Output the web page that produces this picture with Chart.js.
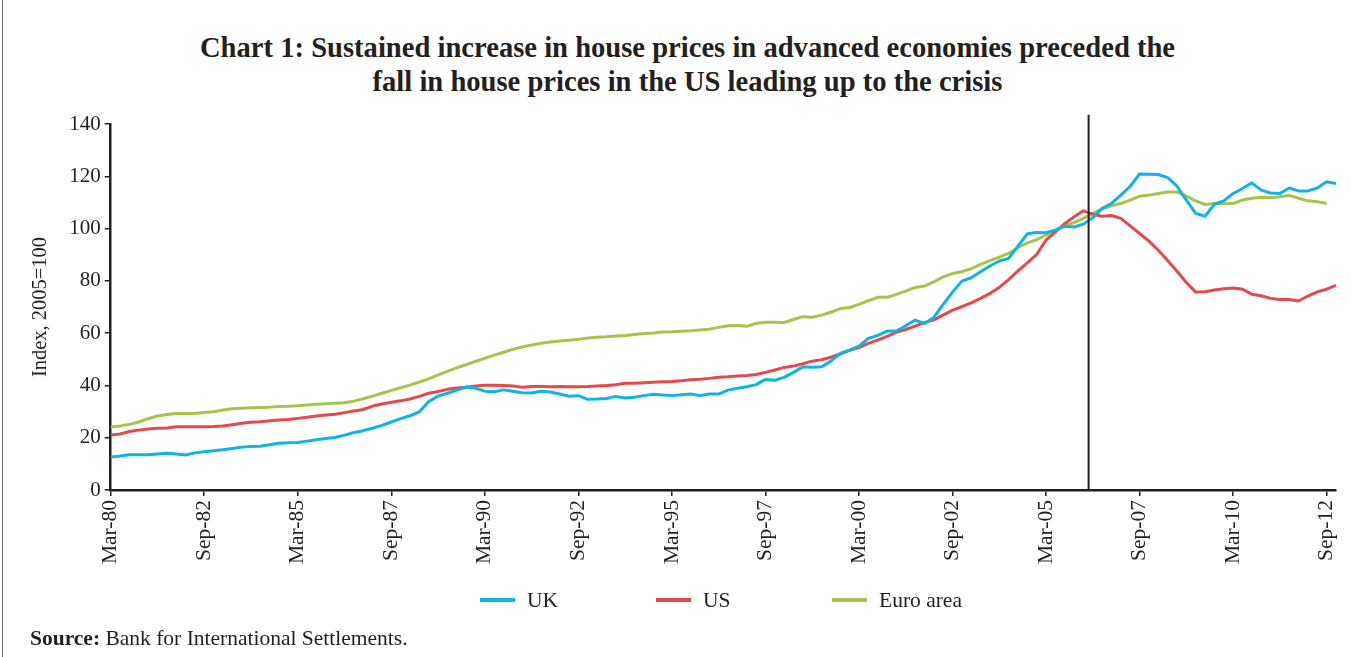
<!DOCTYPE html>
<html><head><meta charset="utf-8">
<script src="https://cdn.jsdelivr.net/npm/chart.js@4.4.1/dist/chart.umd.min.js"></script>
<style>
html,body{margin:0;padding:0;background:#fff;}
body{width:1351px;height:657px;position:relative;overflow:hidden;font-family:"Liberation Serif","DejaVu Serif",serif;color:#231f20;}
#frame{position:absolute;left:2px;top:0;width:1px;height:657px;background:#666;}
#title{position:absolute;left:0;top:31px;width:1351px;padding-left:24px;box-sizing:border-box;text-align:center;font-weight:bold;font-size:28.6px;line-height:34px;}
#wrap{position:absolute;left:0;top:0;width:1351px;height:657px;}
#legend{position:absolute;top:588px;left:480px;display:flex;}
.item{width:176px;display:flex;align-items:center;font-size:21.5px;line-height:24px;}
.sw{width:35px;height:4px;margin-right:12px;}
#source{position:absolute;left:30px;top:626px;font-size:21.5px;line-height:24px;}
</style></head>
<body>
<div id="frame"></div>
<div id="title">Chart 1: Sustained increase in house prices in advanced economies preceded the<br>fall in house prices in the US leading up to the crisis</div>
<div id="wrap"><canvas id="c" width="1351" height="657"></canvas></div>
<div id="legend"></div>
<div id="source"><b>Source:</b> Bank for International Settlements.</div>
<script>
// Quarterly categories Mar-80 ... Dec-12
const years = [];
for (let y = 1980; y <= 2012; y++) years.push(y);
const quarterMonths = ["Mar","Jun","Sep","Dec"];
const categories = [];
years.forEach(y => quarterMonths.forEach(m => categories.push(m + "-" + String(y).slice(2))));

const tickLabels = ["Mar-80","Sep-82","Mar-85","Sep-87","Mar-90","Sep-92","Mar-95","Sep-97","Mar-00","Sep-02","Mar-05","Sep-07","Mar-10","Sep-12"];
const yTicks = [0,20,40,60,80,100,120,140];

const ukValues = [
12.6,13.0,13.5,13.5,13.5,13.8,14.1,13.8,13.4,14.2,
14.6,15.0,15.4,15.9,16.4,16.6,16.7,17.3,17.9,18.1,
18.2,18.7,19.2,19.7,20.1,21.0,22.0,22.7,23.6,24.7,
26.0,27.3,28.4,29.9,33.8,35.9,37.0,38.2,39.4,38.9,
37.8,37.6,38.3,37.8,37.2,37.1,37.8,37.5,36.7,35.9,
36.1,34.7,34.8,35.0,35.8,35.2,35.5,36.1,36.6,36.3,
36.1,36.4,36.7,36.1,36.7,36.7,38.2,38.9,39.5,40.3,
42.3,42.0,43.1,45.0,47.1,47.0,47.1,49.3,52.2,53.5,
55.0,58.0,59.1,60.8,60.8,62.8,65.0,63.7,66.0,71.0,
75.7,79.9,81.2,83.5,85.7,87.6,88.6,93.3,98.0,98.5,
98.4,99.4,100.9,100.6,101.7,104.2,107.7,109.6,112.8,116.2,
120.9,120.8,120.7,119.5,116.2,110.9,105.8,104.7,109.3,110.6,
113.4,115.3,117.5,114.7,113.6,113.4,115.5,114.4,114.4,115.5,
117.9,117.2];

const usValues = [
21.0,21.4,22.4,22.9,23.3,23.6,23.7,24.2,24.2,24.2,
24.2,24.3,24.5,25.0,25.5,25.9,26.1,26.5,26.8,27.0,
27.4,27.8,28.3,28.7,29.0,29.6,30.2,30.8,32.1,32.9,
33.6,34.1,34.8,35.8,37.0,37.7,38.5,39.0,39.3,39.8,
40.1,40.1,40.0,39.8,39.3,39.6,39.6,39.5,39.6,39.5,
39.5,39.6,39.8,40.0,40.3,40.8,40.8,41.0,41.2,41.4,
41.5,41.8,42.2,42.4,42.7,43.1,43.3,43.6,43.8,44.2,
45.0,45.9,46.9,47.4,48.3,49.3,49.8,50.8,52.1,53.4,
54.5,56.1,57.3,58.8,60.4,61.4,62.7,64.0,65.1,66.9,
68.8,70.1,71.6,73.3,75.2,77.5,80.5,83.8,86.9,90.1,
95.6,98.7,101.9,104.5,106.8,105.5,104.7,105.0,103.9,101.0,
98.1,95.2,91.7,87.8,83.7,79.4,75.7,75.8,76.5,77.0,
77.3,76.8,74.9,74.3,73.3,72.9,72.9,72.3,74.2,75.8,
76.8,78.3];

const euroValues = [
24.1,24.5,25.1,26.0,27.3,28.3,28.9,29.3,29.3,29.3,
29.6,29.9,30.6,31.1,31.3,31.5,31.6,31.7,31.9,32.0,
32.2,32.5,32.8,33.0,33.2,33.4,34.0,34.9,35.9,37.0,
38.1,39.1,40.1,41.3,42.5,44.0,45.4,46.7,47.9,49.2,
50.4,51.6,52.7,53.8,54.7,55.5,56.1,56.6,57.0,57.3,
57.7,58.1,58.4,58.6,58.9,59.1,59.5,59.9,60.1,60.4,
60.5,60.7,60.9,61.2,61.5,62.2,62.8,62.9,62.6,63.7,
64.2,64.2,64.1,65.2,66.3,66.1,66.9,68.0,69.4,69.8,
71.0,72.4,73.7,73.7,74.8,76.1,77.5,78.0,79.6,81.5,
82.8,83.5,84.7,86.3,87.7,89.1,90.5,92.8,94.5,95.8,
97.5,99.4,101.0,102.3,103.9,105.8,107.5,108.7,109.6,110.9,
112.4,112.8,113.4,114.0,114.0,112.4,110.6,109.2,109.6,109.6,
109.6,110.9,111.6,112.0,111.8,112.2,112.7,111.6,110.6,110.3,
109.6,null];

const seriesNames = ["UK","US","Euro area"];
const seriesColors = ["#0db4e4","#e8484a","#a6c44a"];
const markerIndex = 104.55;   // vertical marker between Mar-06 and Jun-06
const markerTopValue = 143.5;

const ink = "#231f20";
const fam = "'Liberation Serif','DejaVu Serif',serif";

const markerPlugin = {
  id: "marker",
  afterDatasetsDraw(chart) {
    const {ctx, scales: {x, y}} = chart;
    const px = x.getPixelForValue(markerIndex);
    ctx.save();
    ctx.strokeStyle = ink;
    ctx.lineWidth = 2;
    ctx.beginPath();
    ctx.moveTo(px, y.getPixelForValue(0));
    ctx.lineTo(px, y.getPixelForValue(markerTopValue));
    ctx.stroke();
    ctx.restore();
  }
};

const allValues = [ukValues, usValues, euroValues];
const chart = new Chart(document.getElementById("c"), {
  type: "line",
  data: {
    labels: categories,
    datasets: seriesNames.map((n, i) => ({
      label: n,
      data: allValues[i],
      borderColor: seriesColors[i],
      backgroundColor: seriesColors[i],
      borderWidth: 3,
      pointRadius: 0,
      tension: 0,
      borderJoinStyle: "round",
      fill: false
    }))
  },
  options: {
    responsive: false,
    animation: false,
    events: [],
    layout: {padding: {left: 0, right: 15, top: 124, bottom: 67}},
    plugins: {legend: {display: false}, tooltip: {enabled: false}, title: {display: false}},
    scales: {
      x: {
        type: "category",
        offset: false,
        afterBuildTicks: s => { s.ticks = s.ticks.filter(t => tickLabels.includes(categories[t.value])); },
        afterFit: s => { s.height = 100; s.paddingLeft = 0; s.paddingRight = 0; },
        grid: {drawOnChartArea: false, drawTicks: true, tickLength: 6, color: ink, lineWidth: 1.5},
        border: {display: true, color: ink, width: 2.5},
        ticks: {autoSkip: false, maxRotation: 90, minRotation: 90, padding: 4, color: ink, font: {family: fam, size: 21.5}}
      },
      y: {
        min: 0, max: 140,
        afterBuildTicks: s => { s.ticks = yTicks.map(v => ({value: v})); },
        afterFit: s => { s.width = 110.7; },
        grid: {drawOnChartArea: false, drawTicks: true, tickLength: 6, color: ink, lineWidth: 1.5},
        border: {display: true, color: ink, width: 2.5},
        ticks: {padding: 4, color: ink, font: {family: fam, size: 21}},
        title: {display: true, text: "Index, 2005=100", color: ink, font: {family: fam, size: 20.5}, padding: {top: 28, bottom: 0}}
      }
    }
  },
  plugins: [markerPlugin]
});

const lg = document.getElementById("legend");
chart.data.datasets.forEach(ds => {
  const it = document.createElement("div"); it.className = "item";
  const sw = document.createElement("span"); sw.className = "sw"; sw.style.background = ds.borderColor;
  const tx = document.createElement("span"); tx.textContent = ds.label;
  it.appendChild(sw); it.appendChild(tx); lg.appendChild(it);
});
</script>
</body></html>
